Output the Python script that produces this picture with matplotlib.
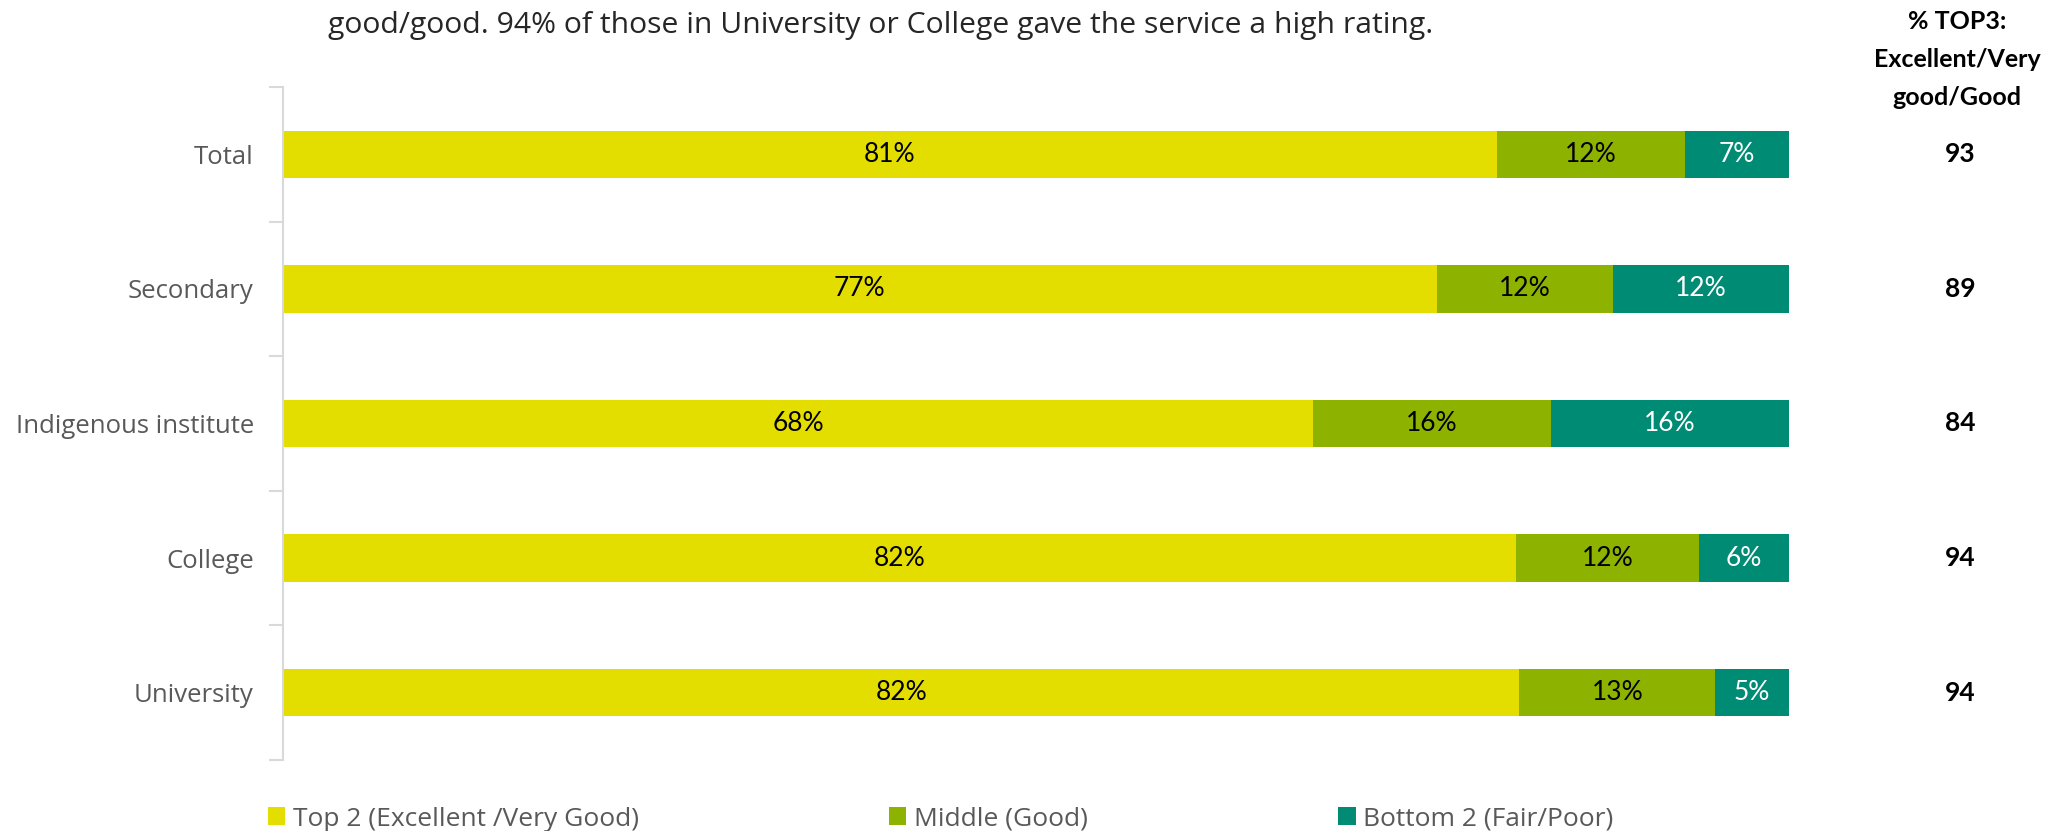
import matplotlib
matplotlib.use("Agg")
import matplotlib.pyplot as plt
from matplotlib.transforms import blended_transform_factory
import numpy as np

categories = ["Total", "Secondary", "Indigenous institute", "College", "University"]
top2 = [80.6, 76.6, 68.4, 81.9, 82.1]
middle = [12.5, 11.7, 15.8, 12.1, 13.0]
bottom2 = [6.9, 11.7, 15.8, 6.0, 4.9]
top2_labels = ["81%", "77%", "68%", "82%", "82%"]
middle_labels = ["12%", "12%", "16%", "12%", "13%"]
bottom2_labels = ["7%", "12%", "16%", "6%", "5%"]
top3_scores = ["93", "89", "84", "94", "94"]
series_names = ["Top 2 (Excellent /Very Good)", "Middle (Good)", "Bottom 2 (Fair/Poor)"]
colors = ["#E4DD00", "#8EB200", "#008B74"]
title_text = "good/good. 94% of those in University or College gave the service a high rating."
header_text = "% TOP3:\nExcellent/Very\ngood/Good"

W, H = 2072, 831
fig = plt.figure(figsize=(W / 100, H / 100), dpi=100)
ax = fig.add_axes([283 / W, 1 - 760 / H, (1789 - 283) / W, (760 - 87) / H])

y = np.arange(len(categories))
left = np.zeros(len(categories))
series = [top2, middle, bottom2]
labels = [top2_labels, middle_labels, bottom2_labels]
txt_colors = ["black", "black", "white"]
for vals, labs, col, name, tc in zip(series, labels, colors, series_names, txt_colors):
    bars = ax.barh(y, vals, left=left, height=0.353, color=col, label=name, edgecolor="none")
    ax.bar_label(bars, labels=labs, label_type="center", color=tc,
                 fontsize=19, family="Lato")
    left = left + np.array(vals)

ax.set_xlim(0, 100)
ax.set_ylim(len(categories) - 0.5, -0.5)
ax.set_yticks(y)
ax.set_yticklabels(categories, fontsize=18.5, family="Open Sans", color="#595959")
ax.tick_params(axis="y", which="major", length=0, pad=21)
ax.set_yticks(np.arange(-0.5, len(categories), 1.0), minor=True)
ax.tick_params(axis="y", which="minor", length=10, width=1.5, color="#D9D9D9")
ax.set_xticks([])
for s in ["top", "right", "bottom"]:
    ax.spines[s].set_visible(False)
ax.spines["left"].set_color("#D9D9D9")
ax.spines["left"].set_linewidth(1.5)

trans = blended_transform_factory(fig.transFigure, ax.transData)
for yi, s in zip(y, top3_scores):
    ax.text(1960 / W, yi, s, transform=trans, ha="center", va="center",
            fontsize=19, family="Lato", fontweight="bold", color="black")

fig.text(1957 / W, 1 - 10 / H, header_text, ha="center", va="top", fontsize=18,
         family="Lato", fontweight="bold", color="black", linespacing=1.78)

fig.text(328 / W, 1 - 25 / H, title_text, ha="left", va="center", fontsize=21.7,
         family="Open Sans", color="#262626")

leg = fig.legend(loc="center left", bbox_to_anchor=(268 / W, 1 - 819 / H),
                 ncol=3, frameon=False, borderpad=0, borderaxespad=0,
                 handlelength=0.65, handleheight=0.65, handletextpad=0.28,
                 columnspacing=9.5,
                 prop={"family": "Open Sans", "size": 19})
for t in leg.get_texts():
    t.set_color("#595959")

fig.savefig("out.png", dpi=100)
